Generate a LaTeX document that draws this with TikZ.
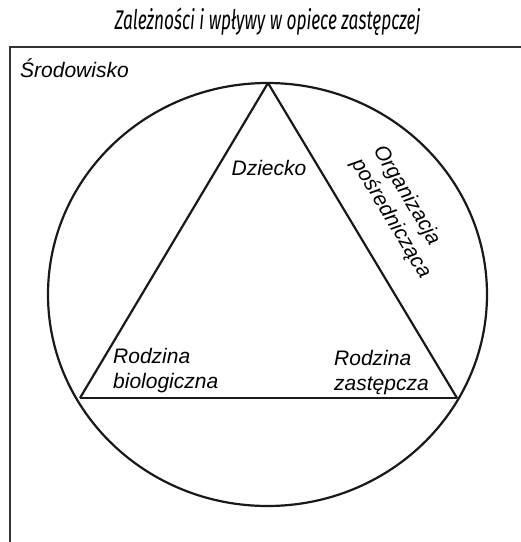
\documentclass[tikz,border=0pt]{standalone}
\usepackage{fontspec}
\setmainfont{Liberation Sans}
\newfontfamily\titlefont[FakeStretch=0.64]{Fira Sans}
\usepackage{graphicx}
\usepackage{tikz}
\usetikzlibrary{shapes.geometric}

\begin{document}
\begin{tikzpicture}[
  x=1pt, y=-1pt,
  lbl/.style={inner sep=0pt, font=\fontsize{21}{25}\selectfont\itshape},
  ttl/.style={inner sep=0pt, font=\titlefont\fontsize{27}{28}\selectfont\itshape},
  edge/.style={line width=2.2pt, black!90},
  frame/.style={line width=2.6pt, black!80},
]
\useasboundingbox (0,0) rectangle (521,542);
\clip (0,0) rectangle (521,542);

%% Title
\node[ttl, anchor=base] (title) at (267.5,29)
  {Zależności i wpływy w opiece zastępczej};

%% Environment frame (runs off the right and bottom edges)
\draw[frame] (10,560) -- (10,47) -- (540,47);
\node[lbl, anchor=base west] (env) at (20,77) {Środowisko};

%% Circle of relations
\node[ellipse, draw, line width=2.2pt, black!90, inner sep=0pt,
      minimum width=439pt, minimum height=423pt] (ring) at (267.5,294.5) {};

%% Triangle corners
\coordinate (apex) at (268,83);
\coordinate (bl) at (80,398);
\coordinate (br) at (457,398);
\draw[edge, line join=miter] (apex) -- (br);
\draw[edge] (apex) -- (bl);
\draw[edge, line width=2.8pt] (bl) -- (br);

%% Labels
\node[lbl, anchor=base] (child) at (269,175) {Dziecko};
\node[lbl, align=left, anchor=west] (biofam) at (113,370.5)
  {Rodzina\\biologiczna};
\node[lbl, align=left, anchor=west] (fosterfam) at (334,372.5)
  {Rodzina\\zastępcza};
\node[lbl, align=left, rotate=-59.2] (agency) at (402,212)
  {Organizacja\\pośrednicząca};

\end{tikzpicture}
\end{document}
